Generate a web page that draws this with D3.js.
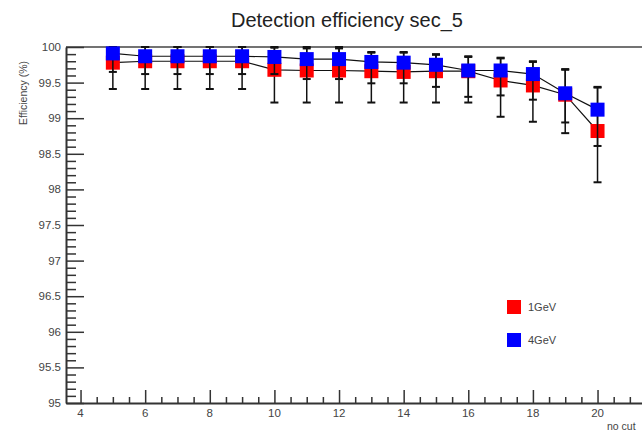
<!DOCTYPE html>
<html>
<head>
<meta charset="utf-8">
<script src="https://cdn.jsdelivr.net/npm/d3@7"></script>
<style>
body { margin: 0; background: #fff; }
text { font-family: "Liberation Sans", Arial, sans-serif; }
</style>
</head>
<body>
<svg id="mainSvg" width="642" height="432"></svg>
<script>
var cuts = [5, 6, 7, 8, 9, 10, 11, 12, 13, 14, 15, 16, 17, 18, 19, 20];

var eff1 = [99.78, 99.80, 99.80, 99.80, 99.80, 99.68, 99.67, 99.67, 99.66, 99.65, 99.66, 99.66, 99.53, 99.46, 99.33, 98.82];
var eff1Low = [99.41, 99.41, 99.41, 99.41, 99.41, 99.22, 99.22, 99.22, 99.22, 99.22, 99.22, 99.22, 99.02, 98.95, 98.79, 98.10];
var eff1High = [100, 100, 100, 100, 100, 99.99, 99.98, 99.98, 99.92, 99.92, 99.89, 99.86, 99.84, 99.79, 99.68, 99.43];

var eff4 = [99.91, 99.87, 99.87, 99.87, 99.87, 99.86, 99.83, 99.83, 99.79, 99.78, 99.75, 99.67, 99.67, 99.62, 99.35, 99.12];
var eff4Low = [99.65, 99.62, 99.62, 99.62, 99.62, 99.62, 99.55, 99.55, 99.49, 99.49, 99.44, 99.30, 99.32, 99.26, 98.94, 98.61];
var eff4High = [100, 100, 100, 100, 100, 100, 100, 100, 99.93, 99.93, 99.90, 99.87, 99.85, 99.80, 99.69, 99.44];

var seriesNames = ["1GeV", "4GeV"];
var seriesCols = ["#ff0000", "#0000ff"];
var yTicks = [95, 95.5, 96, 96.5, 97, 97.5, 98, 98.5, 99, 99.5, 100];
var xTicks = [4, 6, 8, 10, 12, 14, 16, 18, 20];

var mainSvg = d3.select("#mainSvg");
var x = d3.scaleLinear().domain([3.55, 21.5]).range([66, 646]);
var y = d3.scaleLinear().domain([95, 100]).range([403, 47]);

// title
mainSvg.append("text").attr("x", 347).attr("y", 27).attr("text-anchor", "middle")
	.attr("font-size", "20px").attr("fill", "#222").text("Detection efficiency sec_5");

// top frame line
mainSvg.append("line").attr("x1", 66).attr("x2", 642).attr("y1", 47).attr("y2", 47)
	.attr("style", "stroke:#444;stroke-width:1.5");

// y axis
var yAxis = d3.axisRight(y).tickValues(d3.range(950, 1001, 1).map(function(d) { return d / 10; }))
	.tickSize(0).tickFormat("");
var gy = mainSvg.append("g").attr("transform", "translate(66,0)").call(yAxis);
gy.select(".domain").attr("stroke", "#333").attr("stroke-width", 2);
gy.selectAll(".tick line").attr("stroke", "#333").attr("stroke-width", 1.5).attr("x2", function(d) {
	return (Math.abs(d * 2 - Math.round(d * 2)) < 1e-6) ? 18 : 10;
});
yTicks.forEach(function(t) {
	mainSvg.append("text").attr("x", 61).attr("y", y(t) + 4).attr("text-anchor", "end")
		.attr("font-size", "11.5px").attr("fill", "#444").text(t);
});
mainSvg.append("text").attr("transform", "translate(27,93) rotate(-90)").attr("text-anchor", "middle")
	.attr("font-size", "10.5px").attr("fill", "#444").text("Efficiency (%)");

// x axis
var xAxis = d3.axisTop(x).tickValues(d3.range(4, 21.6, 0.5)).tickSize(0).tickFormat("");
var gx = mainSvg.append("g").attr("transform", "translate(0,403)").call(xAxis);
gx.select(".domain").attr("stroke", "#333").attr("stroke-width", 2);
gx.selectAll(".tick line").attr("stroke", "#333").attr("stroke-width", 1.5).attr("y2", function(d) {
	return (Math.abs(d / 2 - Math.round(d / 2)) < 1e-6) ? -13 : -6;
});
xTicks.forEach(function(t) {
	mainSvg.append("text").attr("x", x(t)).attr("y", 417).attr("text-anchor", "middle")
		.attr("font-size", "11.5px").attr("fill", "#444").text(t);
});
mainSvg.append("text").attr("x", 607).attr("y", 430).attr("text-anchor", "start")
	.attr("font-size", "10.5px").attr("fill", "#444").text("no cut");

// graphs
var allSeries = [
	{vals: eff1, lo: eff1Low, hi: eff1High},
	{vals: eff4, lo: eff4Low, hi: eff4High}
];
var line = d3.line().x(function(d) { return x(d.c); }).y(function(d) { return y(d.v); });
allSeries.forEach(function(s, k) {
	var pts = cuts.map(function(c, i) { return {c: c, v: s.vals[i], lo: s.lo[i], hi: s.hi[i]}; });
	var g = mainSvg.append("g");
	g.append("path").datum(pts).attr("d", line).attr("fill", "none").attr("stroke", "#111").attr("stroke-width", 1.2);
	g.selectAll(".eb").data(pts).enter().append("line").attr("x1", function(d) { return x(d.c); })
		.attr("x2", function(d) { return x(d.c); }).attr("y1", function(d) { return y(d.lo); })
		.attr("y2", function(d) { return y(d.hi); }).attr("stroke", "#111").attr("stroke-width", 1.5);
	["lo", "hi"].forEach(function(key) {
		g.selectAll(".cap" + key).data(pts).enter().append("line").attr("x1", function(d) { return x(d.c) - 4; })
			.attr("x2", function(d) { return x(d.c) + 4; }).attr("y1", function(d) { return y(d[key]); })
			.attr("y2", function(d) { return y(d[key]); }).attr("stroke", "#111").attr("stroke-width", 2);
	});
	g.selectAll("rect").data(pts).enter().append("rect").attr("x", function(d) { return x(d.c) - 7; })
		.attr("y", function(d) { return y(d.v) - 7; }).attr("width", 14).attr("height", 14)
		.attr("fill", seriesCols[k]);
});

// legend
seriesNames.forEach(function(n, k) {
	var ly = 307 + k * 33;
	mainSvg.append("rect").attr("x", 507).attr("y", ly - 7).attr("width", 14).attr("height", 14).attr("fill", seriesCols[k]);
	mainSvg.append("text").attr("x", 528).attr("y", ly + 4).attr("font-size", "11px").attr("fill", "#444").text(n);
});
</script>
</body>
</html>
